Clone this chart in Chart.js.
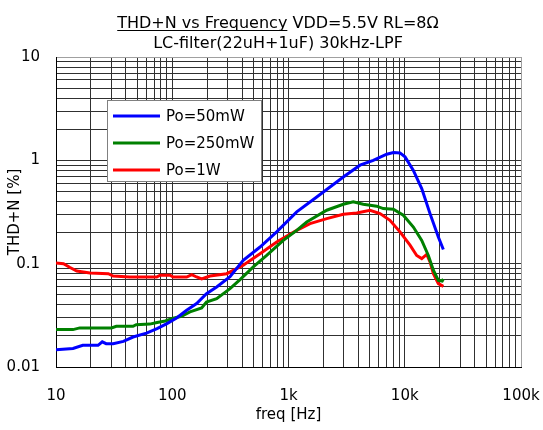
<!DOCTYPE html>
<html>
<head>
<meta charset="utf-8">
<script src="https://cdn.jsdelivr.net/npm/chart.js@4"></script>
<style>
  html, body { margin: 0; padding: 0; background: #fff; }
  #wrap { width: 543px; height: 430px; position: relative; }
</style>
</head>
<body>
<div id="wrap"><canvas id="thdChart"></canvas></div>
<script>
// Po=50mW
const freq50 = [10, 14, 17, 23, 25, 27, 31, 38, 46, 60, 74, 90, 109, 133, 162, 197, 241, 314, 408, 569, 791, 1177, 1749, 2961, 4123, 5360, 7000, 8000, 9100, 10050, 11860, 14000, 16500, 19450, 21480];
const thd50 = [0.0147, 0.0151, 0.0162, 0.0162, 0.0175, 0.0168, 0.0168, 0.0177, 0.0195, 0.0213, 0.0235, 0.0263, 0.0298, 0.0354, 0.0411, 0.0513, 0.0595, 0.075, 0.108, 0.145, 0.203, 0.317, 0.442, 0.69, 0.897, 1.0, 1.146, 1.19, 1.18, 1.08, 0.80, 0.533, 0.305, 0.181, 0.137];

// Po=250mW
const freq250 = [10, 14, 16, 30, 33, 46, 49, 64, 74, 87, 102, 120, 142, 179, 197, 241, 314, 383, 498, 649, 902, 1177, 1434, 2132, 2961, 3606, 4397, 5740, 6530, 7980, 9720, 11860, 14000, 15960, 17630, 19450, 21000, 21480];
const thd250 = [0.0230, 0.0230, 0.0239, 0.0239, 0.0248, 0.0248, 0.0257, 0.026, 0.0269, 0.0279, 0.0296, 0.031, 0.0341, 0.0372, 0.0426, 0.0459, 0.0574, 0.0702, 0.093, 0.12, 0.168, 0.21, 0.253, 0.329, 0.376, 0.396, 0.376, 0.36, 0.341, 0.336, 0.294, 0.226, 0.168, 0.12, 0.0863, 0.069, 0.068, 0.071];

// Po=1W
const freq1w = [10, 11.6, 13.2, 15.1, 19.6, 28.2, 31, 43, 73.5, 78.5, 95.6, 102, 133, 147, 162, 179, 211, 294, 408, 569, 791, 1177, 1531, 2132, 2961, 3865, 5028, 6125, 7460, 9100, 11100, 12670, 14000, 15450, 16500, 17630, 19450, 21480];
const thd1w = [0.1016, 0.100, 0.0917, 0.0849, 0.0813, 0.080, 0.076, 0.0743, 0.0743, 0.0773, 0.0773, 0.0743, 0.0743, 0.0784, 0.0743, 0.0711, 0.076, 0.080, 0.0966, 0.125, 0.162, 0.21, 0.244, 0.273, 0.301, 0.31, 0.329, 0.305, 0.263, 0.203, 0.151, 0.12, 0.112, 0.123, 0.104, 0.08, 0.0642, 0.0603];

const seriesLabels = ['Po=50mW', 'Po=250mW', 'Po=1W'];
const seriesColors = ['#0000ff', '#008000', '#ff0000'];

// axis ticks (every 1..9 step of each decade gets a grid line)
const xTicks = [10, 20, 30, 40, 50, 60, 70, 80, 90, 100, 200, 300, 400, 500, 600, 700, 800, 900, 1000, 2000, 3000, 4000, 5000, 6000, 7000, 8000, 9000, 10000, 20000, 30000, 40000, 50000, 60000, 70000, 80000, 90000, 100000];
const xMajor = [10, 100, 1000, 10000, 100000];
const xMajorText = ['10', '100', '1k', '10k', '100k'];
const yTicks = [0.01, 0.02, 0.03, 0.04, 0.05, 0.06, 0.07, 0.08, 0.09, 0.1, 0.2, 0.3, 0.4, 0.5, 0.6, 0.7, 0.8, 0.9, 1, 2, 3, 4, 5, 6, 7, 8, 9, 10];
const yMajor = [0.01, 0.1, 1, 10];
const yMajorText = ['0.01', '0.1', '1', '10'];

const titleLine1a = 'THD+N vs Frequency';
const titleLine1b = ' VDD=5.5V RL=8\u03A9';
const titleLine2 = 'LC-filter(22uH+1uF) 30kHz-LPF';

const FONT = '"DejaVu Sans", "Liberation Sans", sans-serif';

function toPoints(xs, ys) {
    return xs.map((x, i) => ({ x: x, y: ys[i] }));
}

const titlePlugin = {
    id: 'twoLineTitle',
    afterDraw(chart) {
        const ctx = chart.ctx;
        const cx = 278;
        ctx.save();
        ctx.fillStyle = '#000';
        ctx.strokeStyle = '#000';
        ctx.font = '16px ' + FONT;
        ctx.textBaseline = 'alphabetic';
        ctx.textAlign = 'left';
        const wa = ctx.measureText(titleLine1a).width;
        const wb = ctx.measureText(titleLine1b).width;
        const x0 = cx - (wa + wb) / 2;
        ctx.fillText(titleLine1a, x0, 28);
        ctx.fillText(titleLine1b, x0 + wa, 28);
        ctx.lineWidth = 1;
        ctx.beginPath();
        ctx.moveTo(x0, 30.5);
        ctx.lineTo(x0 + wa, 30.5);
        ctx.stroke();
        ctx.textAlign = 'center';
        ctx.fillText(titleLine2, cx, 48);
        ctx.restore();
    }
};

const boxLegendPlugin = {
    id: 'boxLegend',
    afterDatasetsDraw(chart) {
        const ctx = chart.ctx;
        const area = chart.chartArea;
        const bx = area.left + 51, by = area.top + 43, bw = 154, bh = 81;
        ctx.save();
        ctx.fillStyle = '#fff';
        ctx.fillRect(bx, by, bw, bh);
        ctx.strokeStyle = '#808080';
        ctx.lineWidth = 1;
        ctx.strokeRect(bx + 0.5, by + 0.5, bw, bh);
        ctx.font = '15px ' + FONT;
        ctx.textBaseline = 'middle';
        ctx.textAlign = 'left';
        chart.data.datasets.forEach((ds, i) => {
            const ry = by + 16 + i * 27;
            ctx.strokeStyle = ds.borderColor;
            ctx.lineWidth = 3;
            ctx.beginPath();
            ctx.moveTo(bx + 6, ry);
            ctx.lineTo(bx + 53, ry);
            ctx.stroke();
            ctx.fillStyle = '#000';
            ctx.fillText(ds.label, bx + 59, ry + 1);
        });
        ctx.restore();
    }
};

const datasets = [
    toPoints(freq50, thd50),
    toPoints(freq250, thd250),
    toPoints(freq1w, thd1w)
].map((pts, i) => ({
    label: seriesLabels[i],
    data: pts,
    borderColor: seriesColors[i],
    backgroundColor: seriesColors[i],
    borderWidth: 3,
    pointRadius: 0,
    tension: 0,
    fill: false
}));

new Chart(document.getElementById('thdChart').getContext('2d'), {
    type: 'line',
    data: { datasets: datasets },
    options: {
        responsive: true,
        maintainAspectRatio: false,
        animation: false,
        layout: { padding: { top: 57, right: 22, bottom: 0, left: 0 } },
        plugins: {
            legend: { display: false },
            title: { display: false },
            tooltip: { enabled: false }
        },
        scales: {
            x: {
                type: 'logarithmic',
                min: 10,
                max: 100000,
                afterBuildTicks: (scale) => { scale.ticks = xTicks.map(v => ({ value: v })); },
                afterFit: (scale) => {
                    scale.height = 63;
                    // tick padding would otherwise widen the right margin
                    scale.paddingRight = 0;
                    scale.paddingLeft = 0;
                },
                ticks: {
                    autoSkip: false,
                    maxRotation: 0,
                    padding: 20,
                    color: '#000',
                    font: { family: FONT, size: 15 },
                    callback: (v) => {
                        const k = xMajor.indexOf(v);
                        return k >= 0 ? xMajorText[k] : '';
                    }
                },
                grid: {
                    drawTicks: false,
                    color: (c) => (c.tick && c.tick.value === 100000 ? '#a0a0a0' : '#303030'),
                    lineWidth: 1
                },
                border: { color: '#000', width: 1 },
                title: {
                    display: true,
                    text: 'freq [Hz]',
                    color: '#000',
                    font: { family: FONT, size: 15 },
                    padding: { top: 0, bottom: 6 }
                }
            },
            y: {
                type: 'logarithmic',
                min: 0.01,
                max: 10,
                afterBuildTicks: (scale) => { scale.ticks = yTicks.map(v => ({ value: v })); },
                afterFit: (scale) => { scale.width = 56; },
                ticks: {
                    autoSkip: false,
                    padding: 16,
                    color: '#000',
                    font: { family: FONT, size: 15 },
                    callback: (v) => {
                        const k = yMajor.indexOf(v);
                        return k >= 0 ? yMajorText[k] : '';
                    }
                },
                grid: {
                    drawTicks: false,
                    color: (c) => (c.tick && c.tick.value === 10 ? '#a0a0a0' : '#303030'),
                    lineWidth: 1
                },
                border: { color: '#000', width: 1 },
                title: {
                    display: true,
                    text: 'THD+N [%]',
                    color: '#000',
                    font: { family: FONT, size: 15 },
                    padding: { top: 6, bottom: 0 }
                }
            }
        }
    },
    plugins: [boxLegendPlugin, titlePlugin]
});
</script>
</body>
</html>
